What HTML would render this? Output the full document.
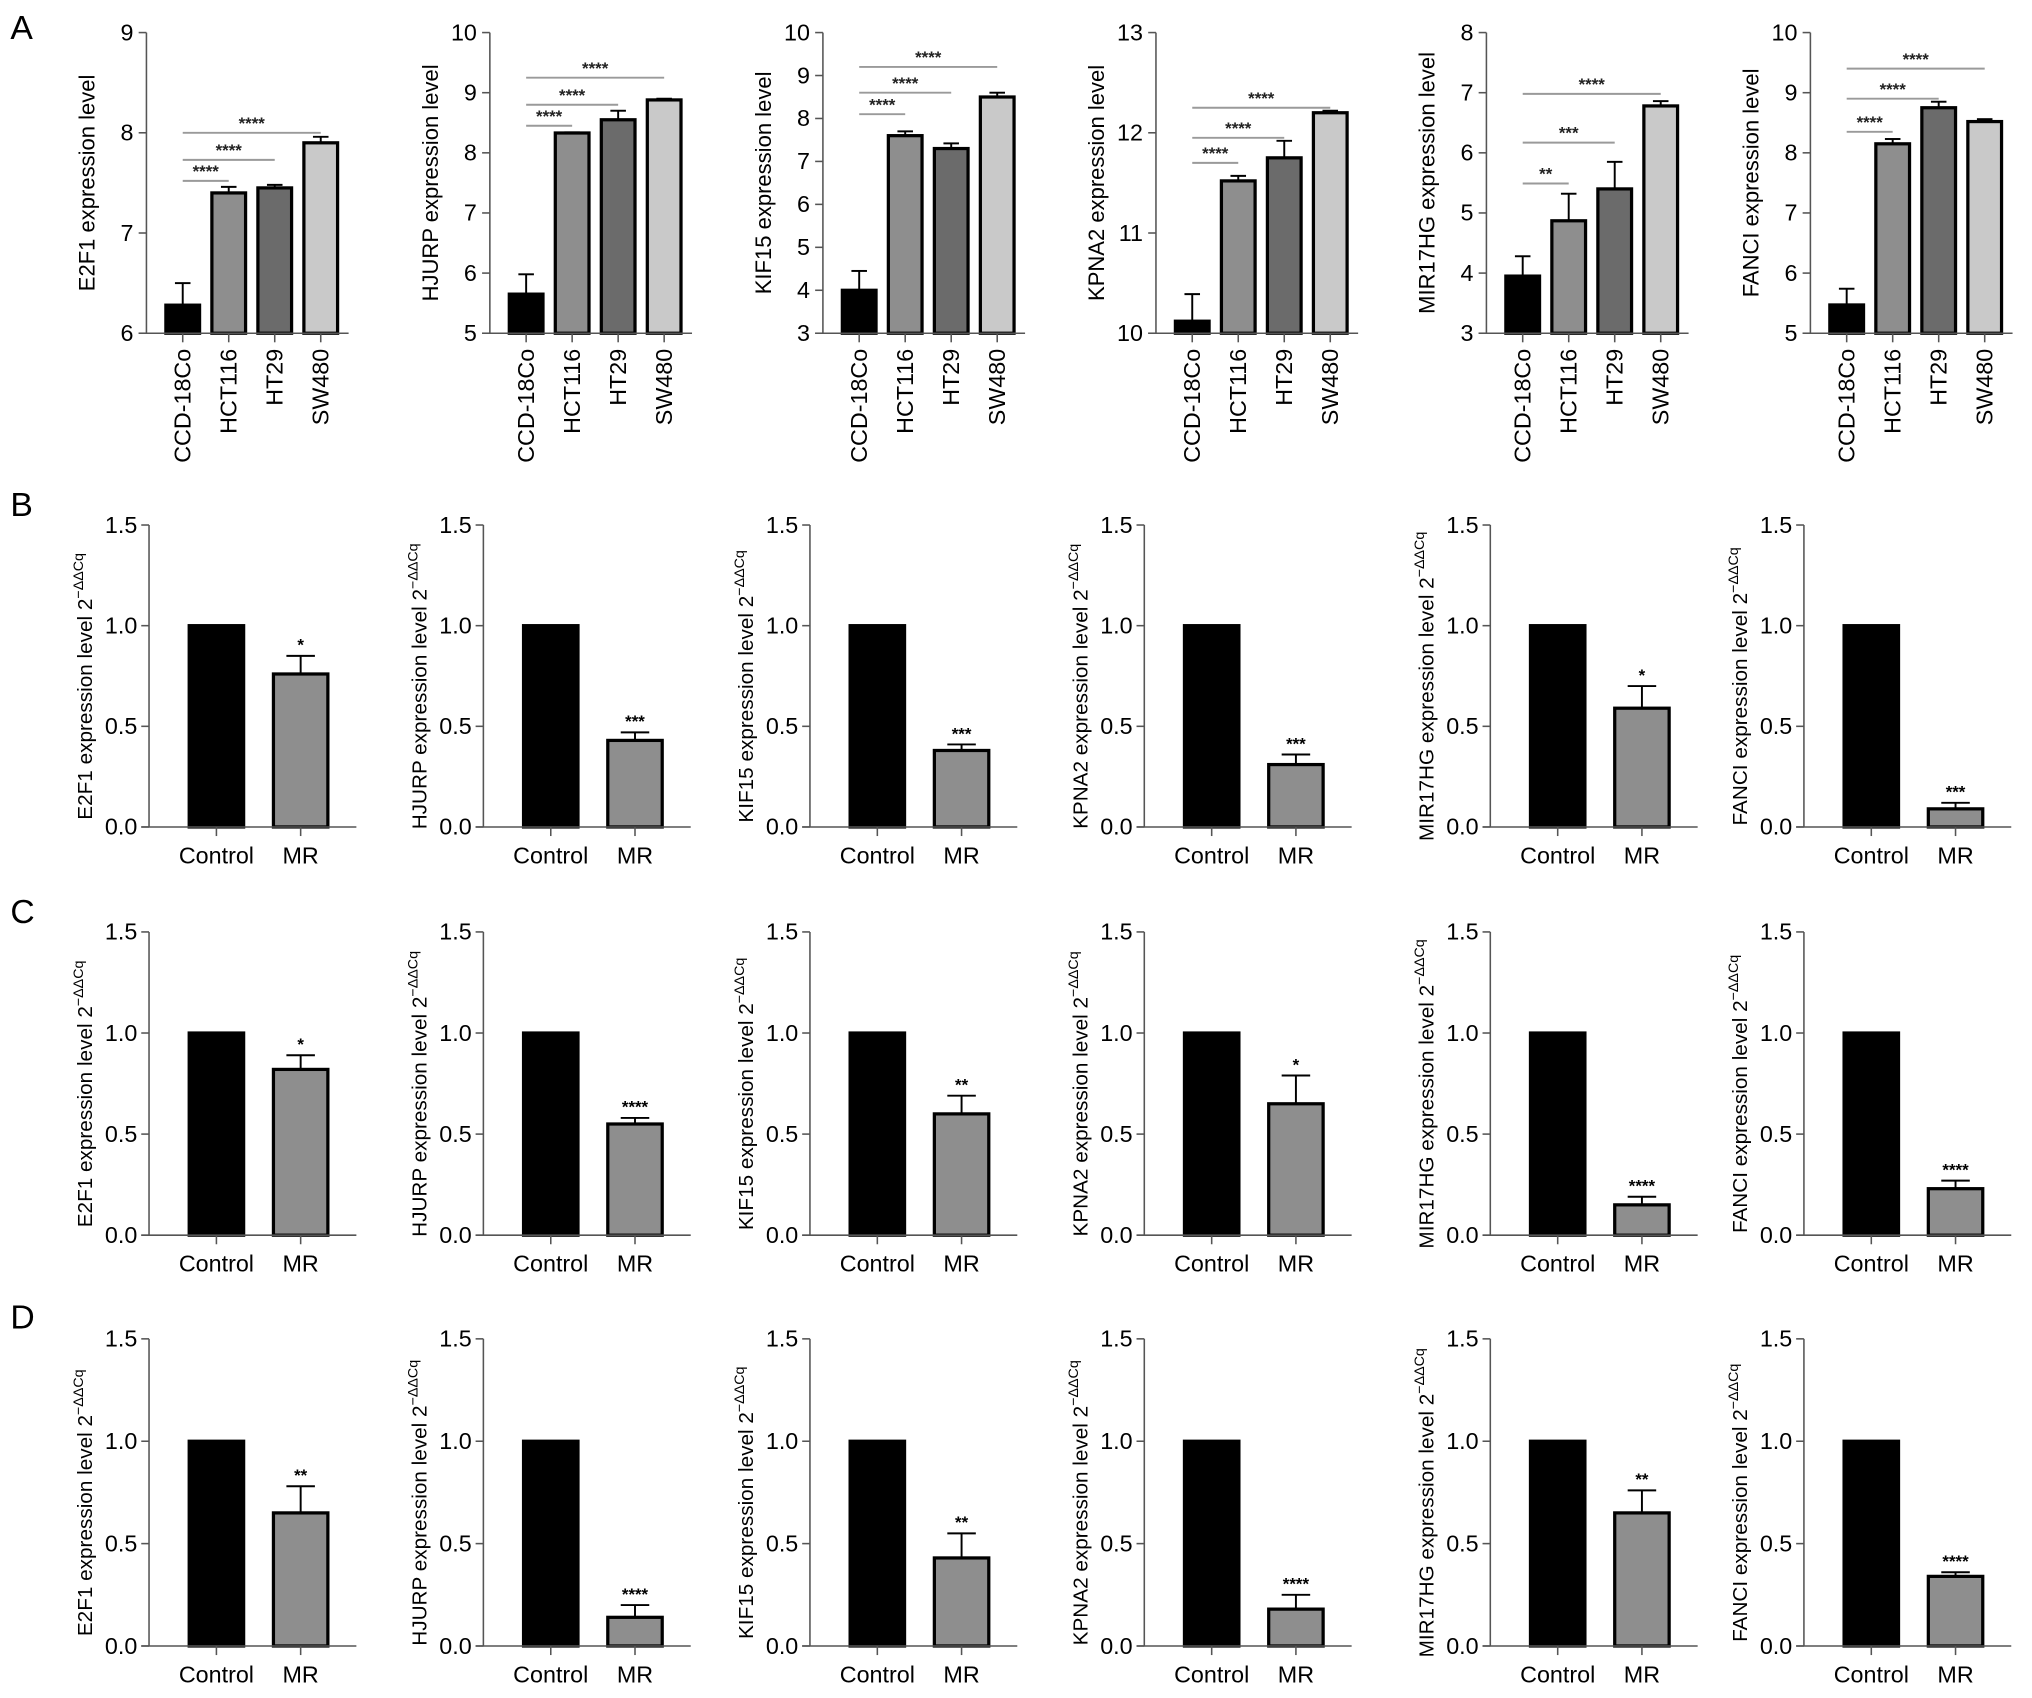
<!DOCTYPE html>
<html><head><meta charset="utf-8"><style>
html,body{margin:0;padding:0;background:#fff;}
svg{display:block;font-family:"Liberation Sans",Arial,sans-serif;}
</style></head><body>
<svg id="fig" width="2032" height="1698" viewBox="0 0 1568 1310" xmlns="http://www.w3.org/2000/svg"></svg>
<script>
// ---------- Panel A data ----------
const aGenes = ["E2F1","HJURP","KIF15","KPNA2","MIR17HG","FANCI"];
const aCats = ["CCD-18Co","HCT116","HT29","SW480"];
const aMin = [6,5,3,10,3,5];
const aMax = [9,10,10,13,8,10];
const aValues = [
  [6.28,7.40,7.45,7.90],
  [5.65,8.33,8.55,8.88],
  [4.00,7.60,7.30,8.50],
  [10.12,11.52,11.75,12.20],
  [3.95,4.87,5.40,6.78],
  [5.47,8.15,8.75,8.52]
];
const aErrors = [
  [0.22,0.06,0.03,0.06],
  [0.33,0.01,0.15,0.02],
  [0.45,0.10,0.12,0.10],
  [0.27,0.05,0.17,0.02],
  [0.33,0.45,0.45,0.08],
  [0.27,0.08,0.10,0.04]
];
const aSigLevels = [
  [7.52,7.73,8.0],
  [8.45,8.8,9.25],
  [8.1,8.6,9.2],
  [11.7,11.95,12.25],
  [5.49,6.17,6.98],
  [8.35,8.9,9.4]
];
const aStars = [
  ["****","****","****"],["****","****","****"],["****","****","****"],
  ["****","****","****"],["**","***","****"],["****","****","****"]
];
// ---------- Panels B-D data ----------
const bcdPanels = ["B","C","D"];
const bcdCats = ["Control","MR"];
const bcdTicks = ["0.0","0.5","1.0","1.5"];
const ctrlValues = [1,1,1];
const mrValuesB = [0.76,0.43,0.38,0.31,0.59,0.09];
const mrErrorsB = [0.09,0.04,0.03,0.05,0.11,0.03];
const mrStarsB = ["*","***","***","***","*","***"];
const mrValuesC = [0.82,0.55,0.60,0.65,0.15,0.23];
const mrErrorsC = [0.07,0.03,0.09,0.14,0.04,0.04];
const mrStarsC = ["*","****","**","*","****","****"];
const mrValuesD = [0.65,0.14,0.43,0.18,0.65,0.34];
const mrErrorsD = [0.13,0.06,0.12,0.07,0.11,0.02];
const mrStarsD = ["**","****","**","****","**","****"];
const mrValues = [mrValuesB,mrValuesC,mrValuesD];
const mrErrors = [mrErrorsB,mrErrorsC,mrErrorsD];
const mrStars = [mrStarsB,mrStarsC,mrStarsD];

const NS="http://www.w3.org/2000/svg";
const svg=document.getElementById('fig');
function mk(tag,attrs,parent,text){
  const e=document.createElementNS(NS,tag);
  for(const k in attrs) e.setAttribute(k,attrs[k]);
  if(text!==undefined) e.textContent=text;
  (parent||svg).appendChild(e);
  return e;
}
const aColors=["#000","#8e8e8e","#6b6b6b","#c9c9c9"];

// Panel letters
[["A",30],["B",398],["C",712],["D",1025]].forEach(p=>{
  const t=mk('text',{x:8,y:p[1],'font-size':26},svg,p[0]);
  
  
});

// ---------- Panel A ----------
const aAxisX=[113,378,635,892,1147,1397];
const aTop=25, aBase=257;
aGenes.forEach((g,i)=>{
  const grp=mk('g',{});
  
  
  const ax=aAxisX[i];
  const y=v=>aBase-(v-aMin[i])/(aMax[i]-aMin[i])*(aBase-aTop);
  const x=j=>ax+28+j*35.5;
  aSigLevels[i].forEach((lv,k)=>{
    const l=mk('line',{x1:x(0),x2:x(k+1),y1:y(lv),y2:y(lv),stroke:'#9a9a9a','stroke-width':1.5},grp);
    
    
    const s=mk('text',{x:(x(0)+x(k+1))/2,y:y(lv)-3,'font-size':13,'font-weight':'bold','text-anchor':'middle',fill:'#222'},grp,aStars[i][k]);
    
    
  });
  aValues[i].forEach((v,j)=>{
    const yt=y(v);
    const e=y(v+aErrors[i][j]);
    const el=mk('line',{x1:x(j),x2:x(j),y1:yt,y2:e,stroke:'#000','stroke-width':1.5},grp);
    
    
    const ec=mk('line',{x1:x(j)-6,x2:x(j)+6,y1:e,y2:e,stroke:'#000','stroke-width':1.5},grp);
    
    
    const r=mk('rect',{x:x(j)-13,y:yt,width:26,height:aBase-yt,fill:aColors[j],stroke:'#000','stroke-width':2.5},grp);
    
    
    const tk=mk('line',{x1:x(j),x2:x(j),y1:aBase,y2:aBase+7,stroke:'#555','stroke-width':1.2},grp);
    
    
    const lb=mk('text',{x:0,y:0,'font-size':18,'text-anchor':'end',transform:`translate(${x(j)+6},${aBase+12}) rotate(-90)`},grp,aCats[j]);
    
    
  });
  const ya=mk('line',{x1:ax,x2:ax,y1:aTop,y2:aBase,stroke:'#555','stroke-width':1.2},grp);
  
  
  const xa=mk('line',{x1:ax-6,x2:ax+156,y1:aBase,y2:aBase,stroke:'#555','stroke-width':1.2},grp);
  
  
  for(let v=aMin[i];v<=aMax[i];v++){
    const t=mk('line',{x1:ax-6,x2:ax,y1:y(v),y2:y(v),stroke:'#555','stroke-width':1.2},grp);
    
    
    const tl=mk('text',{x:ax-10,y:y(v)+6,'font-size':18,'text-anchor':'end'},grp,String(v));
    
    
  }
  const yl=mk('text',{x:0,y:0,'font-size':17,'text-anchor':'middle',transform:`translate(${ax-40},${(aTop+aBase)/2}) rotate(-90)`},grp,g+' expression level');
  
  
});

// ---------- Panels B-D ----------
const bAxisX=[115,373,625,883,1150,1392];
const rowTop=[405,719,1033], rowBase=[638,953,1270];
bcdPanels.forEach((p,r)=>{
  aGenes.forEach((g,i)=>{
    const grp=mk('g',{});
    
    
    const ax=bAxisX[i], top=rowTop[r], base=rowBase[r];
    const y=v=>base-v/1.5*(base-top);
    const xs=[ax+52,ax+117];
    const vals=[ctrlValues[r],mrValues[r][i]];
    const yt=y(vals[1]), e=y(vals[1]+mrErrors[r][i]);
    const el=mk('line',{x1:xs[1],x2:xs[1],y1:yt,y2:e,stroke:'#000','stroke-width':1.5},grp);
    
    
    const ec=mk('line',{x1:xs[1]-11,x2:xs[1]+11,y1:e,y2:e,stroke:'#000','stroke-width':1.5},grp);
    
    
    const st=mk('text',{x:xs[1],y:e-4,'font-size':13,'font-weight':'bold','text-anchor':'middle'},grp,mrStars[r][i]);
    
    
    vals.forEach((v,j)=>{
      const yy=y(v);
      const rc=mk('rect',{x:xs[j]-21,y:yy,width:42,height:base-yy,fill:j?'#8e8e8e':'#000',stroke:'#000','stroke-width':2.5},grp);
      
      
      const tk=mk('line',{x1:xs[j],x2:xs[j],y1:base,y2:base+7,stroke:'#555','stroke-width':1.2},grp);
      
      
      const lb=mk('text',{x:xs[j],y:base+28,'font-size':18,'text-anchor':'middle'},grp,bcdCats[j]);
      
      
    });
    const ya=mk('line',{x1:ax,x2:ax,y1:top,y2:base,stroke:'#555','stroke-width':1.2},grp);
    
    
    const xa=mk('line',{x1:ax-6,x2:ax+160,y1:base,y2:base,stroke:'#555','stroke-width':1.2},grp);
    
    
    bcdTicks.forEach(tv=>{
      const v=parseFloat(tv);
      const t=mk('line',{x1:ax-6,x2:ax,y1:y(v),y2:y(v),stroke:'#555','stroke-width':1.2},grp);
      
      
      const tl=mk('text',{x:ax-9,y:y(v)+6,'font-size':18,'text-anchor':'end'},grp,tv);
      
      
    });
    const yl=mk('text',{x:0,y:0,'font-size':16,'text-anchor':'middle',transform:`translate(${ax-44},${(top+base)/2+8}) rotate(-90)`},grp);
    
    
    mk('tspan',{},yl,g+' expression level 2');
    mk('tspan',{dy:-7,'font-size':11},yl,'\u2212\u0394\u0394Cq');
  });
});
</script>
</body></html>
